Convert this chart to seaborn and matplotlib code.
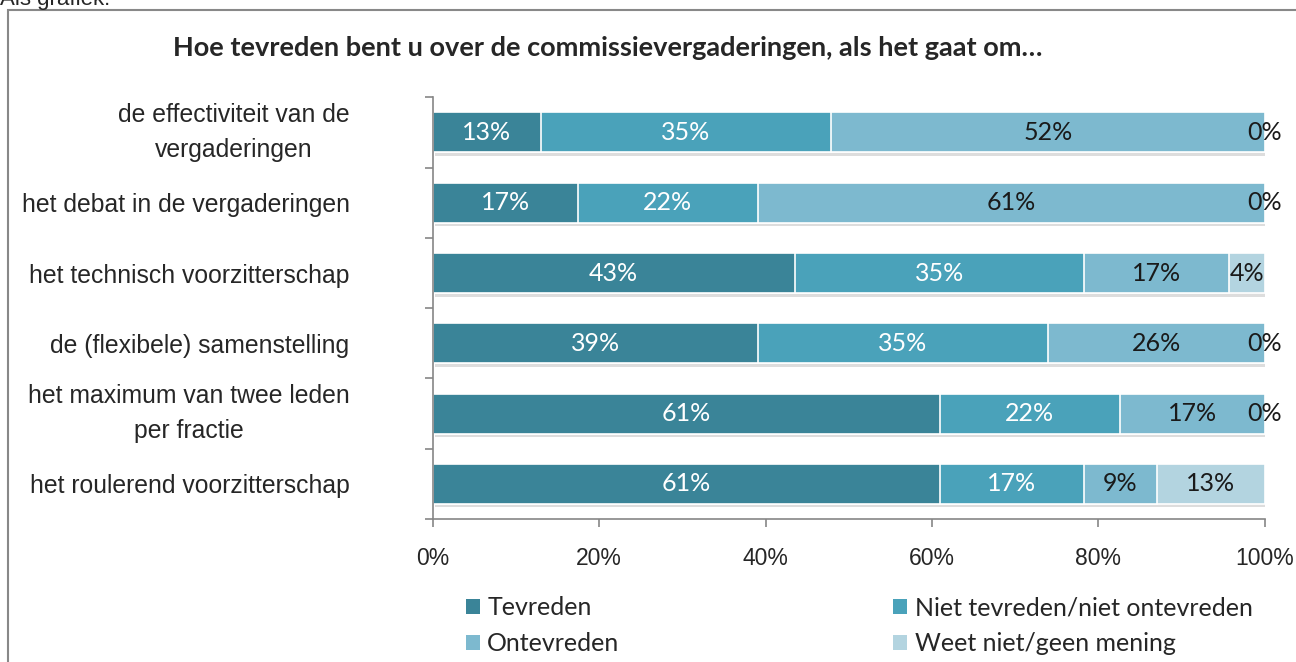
import matplotlib
matplotlib.use("Agg")
from matplotlib import pyplot as plt
from matplotlib.patches import Patch, Rectangle
from matplotlib import patheffects as pe
from pandas import DataFrame
import seaborn as sns


categories = [
    "de effectiviteit van de\nvergaderingen",
    "het debat in de vergaderingen",
    "het technisch voorzitterschap",
    "de (flexibele) samenstelling",
    "het maximum van twee leden\nper fractie",
    "het roulerend voorzitterschap",
]
tevreden = [13.0, 17.4, 43.48, 39.1, 60.9, 60.9]
neutraal = [34.8, 21.7, 34.8, 34.8, 21.7, 17.4]
ontevreden = [52.2, 60.9, 17.4, 26.1, 17.4, 8.7]
weet_niet = [0.0, 0.0, 4.3, 0.0, 0.0, 13.0]

series_names = ["Tevreden", "Niet tevreden/niet ontevreden", "Ontevreden", "Weet niet/geen mening"]
colors = ["#3a8498", "#4aa2ba", "#7db9cf", "#b3d4e0"]
label_colors = ["white", "white", "#1a1a1a", "#1a1a1a"]
x_ticks = [0, 20, 40, 60, 80, 100]

sns.set_style("white")
plt.rcParams["font.family"] = ["Liberation Sans", "DejaVu Sans"]
CAL = ["Lato", "DejaVu Sans"]

df = DataFrame({
    "categorie": categories,
    series_names[0]: tevreden,
    series_names[1]: neutraal,
    series_names[2]: ontevreden,
    series_names[3]: weet_niet,
})
# cumulative sums so the bars can be overlapped into a stack
cum = df[series_names].cumsum(axis=1)
cum["categorie"] = df["categorie"]

fig = plt.figure(figsize=(12.96, 6.62), dpi=100)
ax = fig.add_axes([0.334, 0.216, 0.642, 0.637])

for i in reversed(range(len(series_names))):
    name = series_names[i]
    sns.barplot(data=cum, x=name, y="categorie",
                order=categories, orient="h", color=colors[i], width=0.57,
                edgecolor="white", linewidth=1.2, saturation=1, ax=ax)
    if i == len(series_names) - 1:
        for bar in ax.patches:
            bar.set_path_effects([pe.SimplePatchShadow(offset=(1.5, -2.5), alpha=0.2,
                                                       shadow_rgbFace="#555555"),
                                  pe.Normal()])

# segment labels
for r in range(len(categories)):
    left = 0.0
    for i, name in enumerate(series_names):
        v = df[name].iloc[r]
        ax.text(left + v / 2, r, f"{v:.0f}%", ha="center", va="center",
                color=label_colors[i], fontsize=18, family=CAL)
        left += v

ax.set_xlim(0, 100)
ax.set_ylim(len(categories) - 0.5, -0.5)
ax.set_xticks(x_ticks)
ax.set_xticklabels([f"{t}%" for t in x_ticks], fontsize=16.5)
ax.set_xlabel("")
ax.set_ylabel("")
ax.set_yticks(range(len(categories)))
ax.set_yticklabels(categories, fontsize=17.8, multialignment="center", linespacing=1.55)
for lab in ax.get_yticklabels():
    if "\n" in lab.get_text():
        lab.set_va("center")
ax.set_yticks([k - 0.5 for k in range(len(categories) + 1)], minor=True)
ax.tick_params(axis="y", which="major", length=0, pad=60)
ax.tick_params(axis="y", which="minor", length=6, color="#868686", width=1.2, direction="out", left=True)
ax.tick_params(axis="x", length=6, color="#868686", width=1.2, direction="out", pad=14, bottom=True)
sns.despine(ax=ax, top=True, right=True)
for s in ["left", "bottom"]:
    ax.spines[s].set_color("#868686")
    ax.spines[s].set_linewidth(1.2)

fig.text(0.469, 0.927, "Hoe tevreden bent u over de commissievergaderingen, als het gaat om\u2026",
         ha="center", va="center", fontsize=19.5, fontweight="bold", family=CAL)

handles = [Patch(facecolor=c, edgecolor="none") for c in colors]
order = [0, 2, 1, 3]
fig.legend([handles[k] for k in order], [series_names[k] for k in order],
           ncol=2, loc="upper left", bbox_to_anchor=(0.350, 0.118), frameon=False,
           prop={"family": CAL, "size": 18}, handlelength=0.55, handleheight=0.55,
           handletextpad=0.3, columnspacing=10.95, labelspacing=0.5, borderpad=0)

# outer frame of the chart and the caption above it
fig.patches.append(Rectangle((8 / 1296, -0.1), 1.2, 1 - 10 / 662 + 0.1,
                             transform=fig.transFigure, fill=False,
                             edgecolor="#888888", linewidth=1.5))
fig.text(0.0, 1 - 5 / 662, "Als grafiek:", ha="left", va="baseline", fontsize=16)

fig.savefig("out.png", dpi=100)
